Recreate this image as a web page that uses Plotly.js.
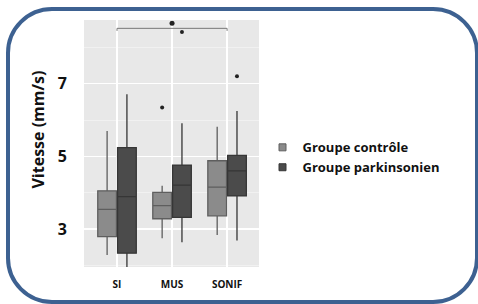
<!DOCTYPE html>
<html>
<head>
<meta charset="utf-8">
<script src="https://cdn.plot.ly/plotly-3.0.1.min.js"></script>
<style>
  html, body { margin: 0; padding: 0; background: #fff; overflow: hidden; }
  #chart { width: 478px; height: 304px; position: absolute; left: 0; top: 0; }
  #frame { position: absolute; left: 6px; top: 7px; width: 473px; height: 297px;
           box-sizing: border-box; border: 4px solid #3d6191; border-radius: 46px;
           pointer-events: none; z-index: 5; }
</style>
</head>
<body>
<div id="chart"></div>
<div id="frame"></div>
<script>
// Categories and groups
const categories = ['SI', 'MUS', 'SONIF'];
const groupNames = ['Groupe contrôle', 'Groupe parkinsonien'];
const yTitle = 'Vitesse (mm/s)';
const yTicks = [3, 5, 7];

// Box statistics (mm/s) – control group
const ctrlLower  = [2.28, 2.74, 2.83];
const ctrlQ1     = [2.79, 3.28, 3.36];
const ctrlMedian = [3.54, 3.64, 4.15];
const ctrlQ3     = [4.05, 4.01, 4.88];
const ctrlUpper  = [5.70, 4.19, 5.82];

// Box statistics (mm/s) – parkinsonian group
const parkLower  = [1.80, 2.63, 2.68];
const parkQ1     = [2.33, 3.32, 3.91];
const parkMedian = [3.89, 4.21, 4.60];
const parkQ3     = [5.24, 4.76, 5.03];
const parkUpper  = [6.71, 5.91, 6.25];

// Outliers
const outlierCategory = ['MUS', 'MUS', 'SONIF'];
const outlierGroup    = [0, 1, 1];
const outlierValue    = [6.35, 8.43, 7.21];

// Significance bracket (SI vs SONIF)
const bracketFrom = 'SI';
const bracketTo = 'SONIF';
const bracketValue = 8.53;
const starValue = 8.67;

// Style constants
const OFFSET = 0.18;
const BOXW = 0.34;
const fills = ['#8b8b8b', '#4b4b4b'];
const lines = ['#5e5e5e', '#363636'];
const FONT = 'Open Sans, Liberation Sans, sans-serif';

const idx = c => categories.indexOf(c);
const offs = [-OFFSET, OFFSET];

const stats = [
  {lower: ctrlLower, q1: ctrlQ1, median: ctrlMedian, q3: ctrlQ3, upper: ctrlUpper},
  {lower: parkLower, q1: parkQ1, median: parkMedian, q3: parkQ3, upper: parkUpper}
];

const traces = stats.map((s, g) => ({
  type: 'box',
  name: groupNames[g],
  showlegend: false,
  x: categories.map((c, i) => i + offs[g]),
  q1: s.q1, median: s.median, q3: s.q3,
  lowerfence: s.lower, upperfence: s.upper,
  width: BOXW,
  whiskerwidth: 0,
  fillcolor: fills[g],
  line: {color: lines[g], width: 1.3},
  hoverinfo: 'skip'
}));

// legend keys
groupNames.forEach((n, g) => traces.push({
  type: 'scatter', mode: 'markers', name: n, x: [null], y: [null],
  marker: {symbol: 'square', size: 7, color: fills[g], line: {color: lines[g], width: 1}}
}));

traces.push({
  type: 'scatter', mode: 'markers', showlegend: false, hoverinfo: 'skip',
  x: outlierCategory.map((c, k) => idx(c) + offs[outlierGroup[k]]),
  y: outlierValue,
  marker: {color: '#222', size: 4},
  cliponaxis: false
});
traces.push({
  type: 'scatter', mode: 'markers', showlegend: false, hoverinfo: 'skip',
  x: [(idx(bracketFrom) + idx(bracketTo)) / 2],
  y: [starValue],
  marker: {color: '#222', size: 5},
  cliponaxis: false
});

const bx0 = idx(bracketFrom), bx1 = idx(bracketTo);
const layout = {
  width: 478, height: 304,
  margin: {l: 84, r: 219, t: 20, b: 37},
  paper_bgcolor: '#ffffff',
  plot_bgcolor: '#e8e8e8',
  showlegend: true,
  legend: {
    x: 1.02, y: 0.545, xanchor: 'left', yanchor: 'top',
    font: {family: FONT, size: 13, color: '#111', weight: 'bold'},
    tracegroupgap: 0, itemwidth: 30, bgcolor: 'rgba(0,0,0,0)'
  },
  xaxis: {
    range: [-0.6, 2.58],
    tickvals: categories.map((c, i) => i),
    ticktext: categories,
    showgrid: true, gridcolor: '#ffffff', gridwidth: 1.2,
    zeroline: false, showline: false, ticks: '',
    ticklabelstandoff: 10,
    tickfont: {family: FONT, size: 10, color: '#111', weight: 'bold'}
  },
  yaxis: {
    range: [1.95, 8.76],
    tickvals: yTicks,
    showgrid: true, gridcolor: '#ffffff', gridwidth: 1.2,
    minor: {tickvals: [2, 4, 6, 8], showgrid: true, gridcolor: '#f3f3f3', gridwidth: 0.8},
    zeroline: false, showline: false, ticks: '',
    ticklabelstandoff: 16,
    tickfont: {family: FONT, size: 16, color: '#111', weight: 'bold'}
  },
  annotations: [{
    text: yTitle, xref: 'paper', yref: 'paper', x: -0.265, y: 0.555,
    xanchor: 'center', yanchor: 'middle', textangle: -90, showarrow: false,
    font: {family: FONT, size: 16, color: '#111', weight: 'bold'}
  }],
  shapes: [
    {type: 'line', xref: 'x', yref: 'y', x0: bx0, x1: bx1, y0: bracketValue, y1: bracketValue,
     line: {color: '#777', width: 1}},
    {type: 'line', xref: 'x', yref: 'y', x0: bx0, x1: bx0, y0: bracketValue, y1: bracketValue - 0.07,
     line: {color: '#777', width: 1}},
    {type: 'line', xref: 'x', yref: 'y', x0: bx1, x1: bx1, y0: bracketValue, y1: bracketValue - 0.07,
     line: {color: '#777', width: 1}}
  ]
};

Plotly.newPlot('chart', traces, layout, {staticPlot: true, displayModeBar: false});
</script>
</body>
</html>
